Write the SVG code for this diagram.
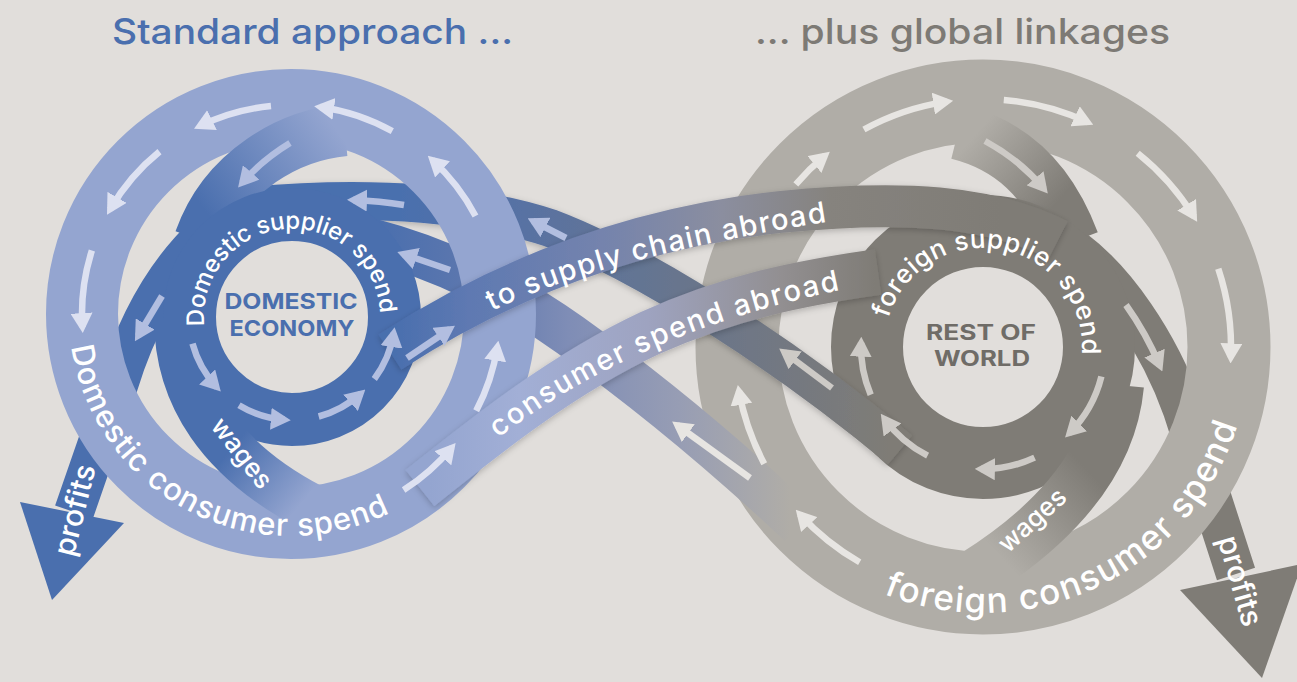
<svg xmlns="http://www.w3.org/2000/svg" width="1297" height="682" viewBox="0 0 1297 682">
<defs>
<style>
.t{font-family:Inter,'Open Sans','Liberation Sans',sans-serif;}
.lbl{font-family:Inter,'Open Sans','Liberation Sans',sans-serif;fill:#ffffff;font-weight:500;}
.ctr{font-family:Inter,'Open Sans','Liberation Sans',sans-serif;font-weight:700;text-anchor:middle;}
.band{fill:none;stroke-linecap:butt;}
.ar{fill:none;stroke-width:6.5;stroke-linecap:butt;}
.alb{stroke:#dde1f1;marker-end:url(#mLB);}
.adb{stroke:#b2bee0;marker-end:url(#mDB);}
.alg{stroke:#e7e5e2;marker-end:url(#mLG);}
.adg{stroke:#cdcac6;marker-end:url(#mDG);}
</style>
<marker id="mLB" viewBox="0 0 20 22" markerWidth="20" markerHeight="22" refX="14" refY="11" orient="auto" markerUnits="userSpaceOnUse"><path d="M0,0 L20,11 L0,22 z" fill="#dde1f1"/></marker>
<marker id="mDB" viewBox="0 0 20 22" markerWidth="20" markerHeight="22" refX="14" refY="11" orient="auto" markerUnits="userSpaceOnUse"><path d="M0,0 L20,11 L0,22 z" fill="#b2bee0"/></marker>
<marker id="mLG" viewBox="0 0 20 22" markerWidth="20" markerHeight="22" refX="14" refY="11" orient="auto" markerUnits="userSpaceOnUse"><path d="M0,0 L20,11 L0,22 z" fill="#e7e5e2"/></marker>
<marker id="mDG" viewBox="0 0 20 22" markerWidth="20" markerHeight="22" refX="14" refY="11" orient="auto" markerUnits="userSpaceOnUse"><path d="M0,0 L20,11 L0,22 z" fill="#cdcac6"/></marker>
<linearGradient id="gA" gradientUnits="userSpaceOnUse" x1="335" y1="128" x2="212" y2="220"><stop offset="0" stop-color="#94a5d0"/><stop offset="1" stop-color="#4a6fae"/></linearGradient>
<linearGradient id="gC" gradientUnits="userSpaceOnUse" x1="232" y1="448" x2="300" y2="505"><stop offset="0" stop-color="#4a6fae"/><stop offset="1" stop-color="#94a5d0"/></linearGradient>
<linearGradient id="gF" gradientUnits="userSpaceOnUse" x1="975" y1="135" x2="1055" y2="205"><stop offset="0" stop-color="#b0ada7"/><stop offset="1" stop-color="#7f7c76"/></linearGradient>
<linearGradient id="gH" gradientUnits="userSpaceOnUse" x1="1095" y1="478" x2="1005" y2="562"><stop offset="0" stop-color="#7f7c76"/><stop offset="1" stop-color="#b0ada7"/></linearGradient>
<linearGradient id="gD" gradientUnits="userSpaceOnUse" x1="400" y1="0" x2="890" y2="0"><stop offset="0" stop-color="#4a6fae"/><stop offset="0.25" stop-color="#5872a3"/><stop offset="0.6" stop-color="#69758b"/><stop offset="1" stop-color="#7f7c76"/></linearGradient>
<linearGradient id="gE" gradientUnits="userSpaceOnUse" x1="380" y1="0" x2="790" y2="0"><stop offset="0" stop-color="#4a6fae"/><stop offset="0.22" stop-color="#5d77ae"/><stop offset="0.46" stop-color="#7f8db6"/><stop offset="0.73" stop-color="#979db4"/><stop offset="1" stop-color="#b0ada7"/></linearGradient>
<linearGradient id="gI" gradientUnits="userSpaceOnUse" x1="395" y1="0" x2="1000" y2="0"><stop offset="0" stop-color="#4a6fae"/><stop offset="0.12" stop-color="#5e79b2"/><stop offset="0.34" stop-color="#7483ad"/><stop offset="0.54" stop-color="#8b8e9f"/><stop offset="0.72" stop-color="#86837e"/><stop offset="1" stop-color="#7f7c76"/></linearGradient>
<linearGradient id="gJ" gradientUnits="userSpaceOnUse" x1="430" y1="0" x2="875" y2="0"><stop offset="0" stop-color="#94a5d0"/><stop offset="0.2" stop-color="#a2afd6"/><stop offset="0.49" stop-color="#9ea3c0"/><stop offset="0.79" stop-color="#928f91"/><stop offset="1" stop-color="#7f7c76"/></linearGradient>
<filter id="sh" x="-10%" y="-20%" width="120%" height="140%"><feDropShadow dx="0" dy="2" stdDeviation="3" flood-color="#000" flood-opacity="0.22"/></filter>
<path id="p-dss" d="M 204.5 326.2 A 88 88 0 1 1 379.8 310.9"/>
<path id="p-fss" d="M 888.3 318.1 A 99 99 0 0 1 1081.7 354.9"/>
<path id="p-dcs" d="M 71.4 346.8 A 222 222 0 0 0 391.8 511.8"/>
<path id="p-fcs" d="M 883.4 593.6 A 266 266 0 0 0 1237.8 423.4"/>
<path id="p-tsc" d="M 492 311 Q 600 258 832 221"/>
<path id="p-csa" d="M 498 438 Q 640 330 846 289"/>
</defs>
<rect width="1297" height="682" fill="#e1dedb"/>
<g id="titles" class="t">
<text x="112" y="44" font-size="35" font-weight="500" fill="#4a6fae" textLength="401" lengthAdjust="spacingAndGlyphs">Standard approach ...</text>
<text x="755" y="44" font-size="35" font-weight="500" fill="#7d7a75" textLength="415" lengthAdjust="spacingAndGlyphs">... plus global linkages</text>
</g>
<g id="rest-of-world">
<path class="band" d="M 1075 250 C 1115 280, 1158 340, 1183 410 L 1236 574" stroke="#7f7c76" stroke-width="40"/>
<polygon points="1180,590 1302,564 1262,678" fill="#7f7c76"/>
<circle cx="983" cy="347" r="246" fill="none" stroke="#b0ada7" stroke-width="83"/>
<path class="band" d="M 958 132 C 1010 145, 1048 178, 1072 242" stroke="url(#gF)" stroke-width="55"/>
<circle cx="983" cy="347" r="116" fill="none" stroke="#7f7c76" stroke-width="72"/>
<path class="band" d="M 1118 385 C 1112 450, 1070 515, 975 575" stroke="url(#gH)" stroke-width="52"/>
</g>
<g id="connectors-under">
<path class="band" d="M 250 206 C 380 194, 480 205, 550 228 C 640 262, 780 350, 900 450" stroke="url(#gD)" stroke-width="38" filter="url(#sh)"/>
<path class="band" d="M 370 240 C 440 258, 510 292, 570 335 C 640 385, 720 450, 800 525" stroke="url(#gE)" stroke-width="44"/>
</g>
<g id="domestic-economy">
<path class="band" d="M 205 235 C 168 270, 138 320, 118 385 L 74 512" stroke="#4a6fae" stroke-width="40"/>
<polygon points="20,502 124,523 52,600" fill="#4a6fae"/>
<circle cx="291" cy="314" r="209" fill="none" stroke="#94a5d0" stroke-width="72"/>
<path class="band" d="M 345 130 C 290 135, 225 170, 200 240" stroke="url(#gA)" stroke-width="52"/>
<circle cx="292" cy="317" r="102.5" fill="none" stroke="#4a6fae" stroke-width="53"/>
<path class="band" d="M 178 318 C 178 395, 220 460, 312 508" stroke="url(#gC)" stroke-width="48"/>
</g>
<g id="connectors">
<path class="band" d="M 390 352 C 470 300, 600 232, 780 212 C 900 200, 990 205, 1058 240" stroke="url(#gI)" stroke-width="42" filter="url(#sh)"/>
<path class="band" d="M 420 488 C 480 440, 560 375, 650 333 C 730 297, 800 283, 878 272" stroke="url(#gJ)" stroke-width="46" filter="url(#sh)"/>
</g>
<g id="flow-arrows">
<path class="ar alb" d="M 271.0 106.0 A 209 209 0 0 0 199.4 126.2"/>
<path class="ar alb" d="M 392.3 131.2 A 209 209 0 0 0 320.1 107.0"/>
<path class="ar alb" d="M 159.5 151.6 A 209 209 0 0 0 110.0 209.5"/>
<path class="ar alb" d="M 91.9 250.5 A 209 209 0 0 0 82.4 327.1"/>
<path class="ar alb" d="M 475.5 215.9 A 209 209 0 0 0 432.2 159.9"/>
<path class="ar alb" d="M 476.2 410.8 A 209 209 0 0 0 497.4 346.7"/>
<path class="ar alb" d="M 403.6 490.1 A 209 209 0 0 0 451.8 447.5"/>
<path class="ar adb" d="M 192.5 343.7 A 103 103 0 0 0 216.7 387.2"/>
<path class="ar adb" d="M 239.0 405.3 A 103 103 0 0 0 284.8 419.8"/>
<path class="ar adb" d="M 318.7 416.5 A 103 103 0 0 0 360.9 393.5"/>
<path class="ar adb" d="M 374.3 379.0 A 103 103 0 0 0 393.7 333.1"/>
<path class="ar adb" d="M 290 143 Q 262 160 242 183"/>
<path class="ar adb" d="M 162 296 L 138 336"/>
<path class="ar adb" d="M 407 358 L 450 329"/>
<path class="ar adb" d="M 404 205 Q 380 201 353 200"/>
<path class="ar adb" d="M 450 270 L 403 254"/>
<path class="ar adb" d="M 566 238 L 533 221"/>
<path class="ar adg" d="M 832 388 L 784 352"/>
<path class="ar alg" d="M 750 478 L 677 425"/>
<path class="ar alg" d="M 863.9 129.5 A 248 248 0 0 1 947.2 101.6"/>
<path class="ar alg" d="M 1003.8 99.9 A 248 248 0 0 1 1087.8 122.2"/>
<path class="ar alg" d="M 1137.7 153.2 A 248 248 0 0 1 1194.0 216.7"/>
<path class="ar alg" d="M 1218.3 268.7 A 248 248 0 0 1 1230.8 357.4"/>
<path class="ar alg" d="M 795.8 184.3 A 248 248 0 0 1 825.2 155.6"/>
<path class="ar alg" d="M 764.2 463.8 A 248 248 0 0 1 738.9 390.9"/>
<path class="ar alg" d="M 859.7 562.2 A 248 248 0 0 1 799.8 514.2"/>
<path class="ar adg" d="M 1101.4 376.5 A 122 122 0 0 1 1069.3 433.3"/>
<path class="ar adg" d="M 1034.6 457.6 A 122 122 0 0 1 980.9 469.0"/>
<path class="ar adg" d="M 927.6 455.7 A 122 122 0 0 1 884.3 418.7"/>
<path class="ar adg" d="M 870.7 394.7 A 122 122 0 0 1 861.1 342.7"/>
<path class="ar adg" d="M 985 141 Q 1020 160 1044 189"/>
<path class="ar adg" d="M 1126 305 Q 1146 333 1160 366"/>
</g>
<g id="labels">
<text class="ctr" x="291" y="309" font-size="22" fill="#4a6fae" textLength="133" lengthAdjust="spacingAndGlyphs">DOMESTIC</text>
<text class="ctr" x="292" y="336" font-size="22" fill="#4a6fae" textLength="125" lengthAdjust="spacingAndGlyphs">ECONOMY</text>
<text class="ctr" x="981" y="340" font-size="21" fill="#6f6c67" textLength="110" lengthAdjust="spacingAndGlyphs">REST OF</text>
<text class="ctr" x="982" y="366" font-size="21" fill="#6f6c67" textLength="96" lengthAdjust="spacingAndGlyphs">WORLD</text>
<text class="lbl" font-size="24"><textPath href="#p-dss" textLength="282" lengthAdjust="spacing">Domestic supplier spend</textPath></text>
<text class="lbl" font-size="26"><textPath href="#p-fss" textLength="289" lengthAdjust="spacing">foreign supplier spend</textPath></text>
<text class="lbl" font-size="31"><textPath href="#p-dcs" textLength="418" lengthAdjust="spacing">Domestic consumer spend</textPath></text>
<text class="lbl" font-size="35"><textPath href="#p-fcs" textLength="440" lengthAdjust="spacing">foreign consumer spend</textPath></text>
<text class="lbl" font-size="29"><textPath href="#p-tsc" textLength="348" lengthAdjust="spacing">to supply chain abroad</textPath></text>
<text class="lbl" font-size="29"><textPath href="#p-csa" textLength="376" lengthAdjust="spacing">consumer spend abroad</textPath></text>
<text class="lbl" font-size="26" font-weight="600" text-anchor="middle" dy="9" transform="translate(242 453) rotate(52)">wages</text>
<text class="lbl" font-size="26" font-weight="600" text-anchor="middle" dy="9" transform="translate(1032 520) rotate(-42)">wages</text>
<text class="lbl" font-size="30" font-weight="700" text-anchor="middle" dy="10" transform="translate(75 510) rotate(-76)">profits</text>
<text class="lbl" font-size="30" font-weight="700" text-anchor="middle" dy="10" transform="translate(1240 581) rotate(74)">profits</text>
</g>
</svg>
